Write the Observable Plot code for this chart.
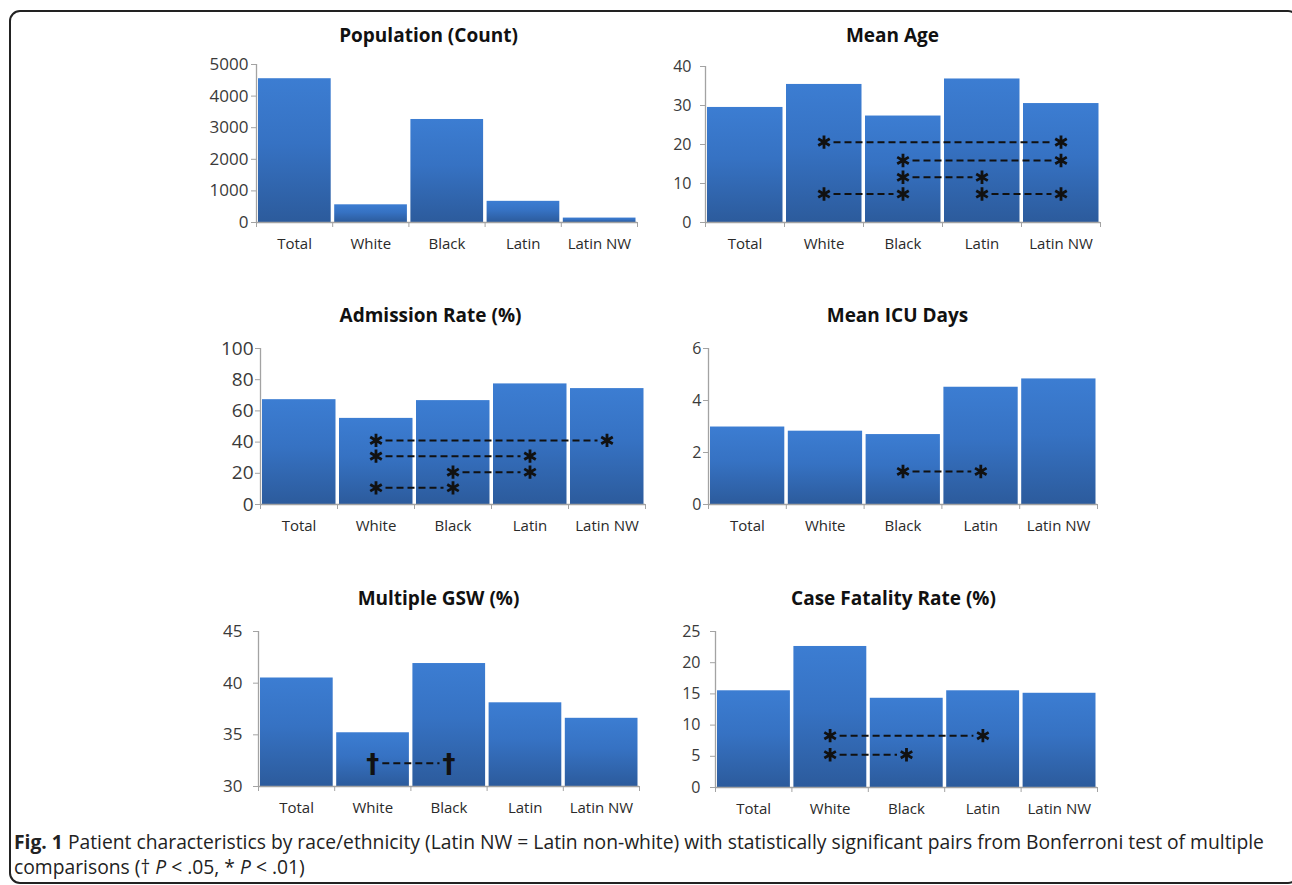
<!DOCTYPE html>
<html>
<head>
<meta charset="utf-8">
<script src="https://cdn.jsdelivr.net/npm/d3@7"></script>
<script src="https://cdn.jsdelivr.net/npm/@observablehq/plot@0.6"></script>
<style>
  html, body { margin: 0; padding: 0; background: #fff; }
  #root { position: relative; width: 1292px; height: 885px; overflow: hidden; font-family: "Open Sans", sans-serif; }
  #frame { position: absolute; left: 9px; top: 10px; width: 1290px; height: 874px; box-sizing: border-box;
           border: 2px solid #222; border-radius: 11px; }
  #caption { position: absolute; left: 14px; top: 829px; font-size: 19.3px; line-height: 25px; color: #222; white-space: nowrap; }
  #caption b { font-weight: 700; }
</style>
</head>
<body>
<div id="root">
  <div id="frame"></div>
  <div id="caption"><b>Fig. 1</b> Patient characteristics by race/ethnicity (Latin NW = Latin non-white) with statistically significant pairs from Bonferroni test of multiple<br>comparisons († <i>P</i> &lt; .05, * <i>P</i> &lt; .01)</div>
</div>
<script>
// ---------- data ----------
const categories = ["Total", "White", "Black", "Latin", "Latin NW"];

const population    = [4550, 560, 3260, 670, 140];
const meanAge       = [29.5, 35.4, 27.3, 36.8, 30.5];
const admissionRate = [67.2, 55.2, 66.6, 77.3, 74.3];
const meanIcuDays   = [2.98, 2.82, 2.69, 4.51, 4.83];
const multipleGsw   = [40.5, 35.2, 41.9, 38.1, 36.6];
const caseFatality  = [15.5, 22.6, 14.3, 15.5, 15.1];

const populationTicks = [0, 1000, 2000, 3000, 4000, 5000];
const ageTicks        = [0, 10, 20, 30, 40];
const admissionTicks  = [0, 20, 40, 60, 80, 100];
const icuTicks        = [0, 2, 4, 6];
const gswTicks        = [30, 35, 40, 45];
const fatalityTicks   = [0, 5, 10, 15, 20, 25];

// significant pairs: [group A, group B, height of marker row]
const populationSig = [];
const ageSig = [["White", "Latin NW", 20.6], ["Black", "Latin NW", 15.9], ["Black", "Latin", 11.6], ["White", "Black", 7.3], ["Latin", "Latin NW", 7.3]];
const admissionSig = [["White", "Latin NW", 41.1], ["White", "Latin", 31.0], ["Black", "Latin", 20.7], ["White", "Black", 10.7]];
const icuSig = [["Black", "Latin", 1.27]];
const gswSig = [["White", "Black", 32.25]];
const fatalitySig = [["White", "Latin", 8.3], ["White", "Black", 5.25]];

const titles = ["Population (Count)", "Mean Age", "Admission Rate (%)", "Mean ICU Days", "Multiple GSW (%)", "Case Fatality Rate (%)"];

// ---------- layout (pixel geometry of each panel) ----------
const panels = [
  {title: titles[0], values: population,    ticks: populationTicks, domain: [0, 5000], sig: populationSig, mark: "*",
   axisX: 256, right: 637, top: 64, bottom: 222, titleX: 428, titleY: 35, tickFont: 17, tickPad: 3},
  {title: titles[1], values: meanAge,       ticks: ageTicks,        domain: [0, 40],   sig: ageSig,        mark: "*",
   axisX: 705, right: 1100, top: 66, bottom: 222, titleX: 892, titleY: 35, tickFont: 16, tickPad: 9},
  {title: titles[2], values: admissionRate, ticks: admissionTicks,  domain: [0, 100],  sig: admissionSig,  mark: "*",
   axisX: 260, right: 645, top: 348, bottom: 504, titleX: 430, titleY: 315, tickFont: 19, tickPad: 2},
  {title: titles[3], values: meanIcuDays,   ticks: icuTicks,        domain: [0, 6],    sig: icuSig,        mark: "*",
   axisX: 708, right: 1097, top: 348, bottom: 504, titleX: 897, titleY: 315, tickFont: 16, tickPad: 2},
  {title: titles[4], values: multipleGsw,   ticks: gswTicks,        domain: [30, 45],  sig: gswSig,        mark: "†",
   axisX: 258, right: 639, top: 631, bottom: 786, titleX: 438, titleY: 598, tickFont: 17, tickPad: 11},
  {title: titles[5], values: caseFatality,  ticks: fatalityTicks,   domain: [0, 25],   sig: fatalitySig,   mark: "*",
   axisX: 715, right: 1097, top: 631, bottom: 787, titleX: 893, titleY: 598, tickFont: 16, tickPad: 10}
];

const root = document.getElementById("root");
const axisGray = "#a3a3a3";
const svgNS = "http://www.w3.org/2000/svg";

panels.forEach((p, k) => {
  const n = categories.length;
  const data = p.values.map((v, i) => ({cat: categories[i], i, v}));
  const idx = c => categories.indexOf(c);
  const pairs = p.sig.map(([a, b, y]) => ({x1: idx(a) + 0.5, x2: idx(b) + 0.5, y}));
  const ends = pairs.flatMap(d => [{x: d.x1, y: d.y}, {x: d.x2, y: d.y}]);

  const mL = 70, mR = 12, mB = 42;
  const svgTop = p.titleY - 26;
  const mT = p.top - svgTop;
  const width = (p.right - p.axisX) + mL + mR;
  const height = mT + (p.bottom - p.top) + mB;
  const gid = "barGrad" + k;

  const defs = () => {
    const d = document.createElementNS(svgNS, "defs");
    const g = document.createElementNS(svgNS, "linearGradient");
    g.setAttribute("id", gid);
    g.setAttribute("x1", "0"); g.setAttribute("y1", "0");
    g.setAttribute("x2", "0"); g.setAttribute("y2", "1");
    [["0", "#3c7dd2"], ["0.45", "#3672c3"], ["1", "#2c5b9c"]].forEach(([o, c]) => {
      const s = document.createElementNS(svgNS, "stop");
      s.setAttribute("offset", o); s.setAttribute("stop-color", c);
      g.appendChild(s);
    });
    d.appendChild(g);
    return d;
  };

  const isDagger = p.mark === "†";

  const markerMark = isDagger
    ? Plot.text(ends, {x: "x", y: "y", text: () => p.mark, fill: "#111", fontFamily: "DejaVu Sans", fontWeight: "bold", fontSize: 26, dy: 1})
    : Plot.dot(ends, {x: "x", y: "y", symbol: "asterisk", r: 6.3, stroke: "#111", strokeWidth: 2.8});

  const chart = Plot.plot({
    width, height,
    marginLeft: mL, marginRight: mR, marginTop: mT, marginBottom: mB,
    style: {background: "transparent", maxWidth: "none", overflow: "visible", fontFamily: "Open Sans", color: "#3a3a3a",
            position: "absolute", left: (p.axisX - mL) + "px", top: svgTop + "px"},
    x: {domain: [0, n], axis: null, label: null},
    y: {domain: p.domain, axis: null, label: null},
    marks: [
      defs,
      Plot.rect(data, {x1: "i", x2: d => d.i + 1, y1: p.domain[0], y2: "v", insetLeft: 2, insetRight: 1.5, fill: `url(#${gid})`}),
      Plot.ruleX([0], {stroke: axisGray, strokeWidth: 1.3}),
      Plot.ruleY([p.domain[0]], {stroke: axisGray, strokeWidth: 1.3}),
      Plot.axisY({ticks: p.ticks, tickSize: 5, tickPadding: p.tickPad, fontSize: p.tickFont, stroke: axisGray, fill: "#3a3a3a",
                  tickFormat: d => String(d), label: null}),
      Plot.axisX({ticks: d3.range(n + 1), tickSize: 5, stroke: axisGray, fill: "none", label: null}),
      Plot.axisX({ticks: categories.map((c, i) => i + 0.5), tickSize: 0, tickPadding: 16, fontSize: 15, fill: "#2a2a2a",
                  tickFormat: t => categories[Math.floor(t)], label: null}),
      Plot.ruleY(pairs, {y: "y", x1: "x1", x2: "x2", stroke: "#111", strokeWidth: 2, strokeDasharray: "7,4",
                         insetLeft: 10, insetRight: 9}),
      markerMark,
      Plot.text([p.title], {frameAnchor: "top-left", dx: p.titleX - p.axisX, dy: p.titleY - p.top,
                            textAnchor: "middle", lineAnchor: "middle", fontSize: 19, fontWeight: "bold", fill: "#111"})
    ]
  });
  root.appendChild(chart);
});
</script>
</body>
</html>
